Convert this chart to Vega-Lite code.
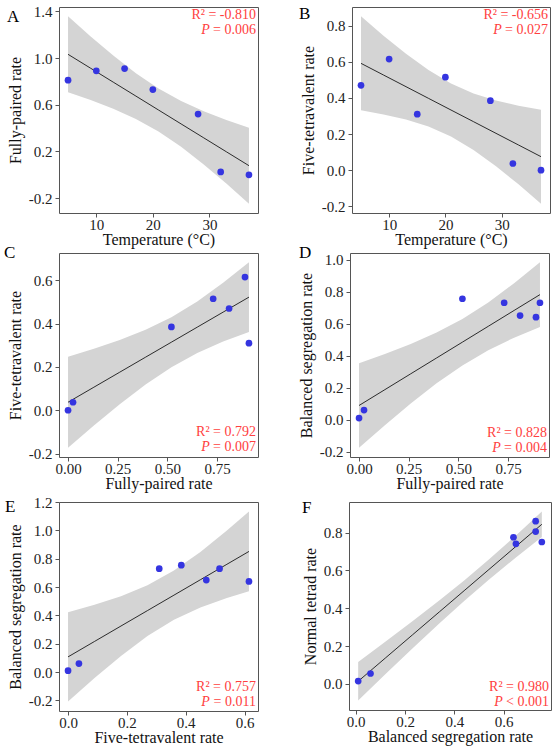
{
"$schema":"https://vega.github.io/schema/vega-lite/v6.json",
"padding":{"left":3,"top":3,"right":0,"bottom":0},
"datasets":{
"pts":[
{"temp":5,"fully":0.81,"five":0.47,"balanced":0.65,"normal":0.74},
{"temp":10,"fully":0.89,"five":0.615,"balanced":0.64,"normal":0.775},
{"temp":15,"fully":0.91,"five":0.31,"balanced":0.73,"normal":0.86},
{"temp":20,"fully":0.73,"five":0.515,"balanced":0.73,"normal":0.805},
{"temp":28,"fully":0.52,"five":0.385,"balanced":0.755,"normal":0.75},
{"temp":32,"fully":0.025,"five":0.037,"balanced":0.06,"normal":0.055},
{"temp":37,"fully":0.0,"five":0.0,"balanced":0.01,"normal":0.015}
],
"bandA":[
{"x":5,"lo":0.7067,"hi":1.3566,"fit":1.0317},
{"x":9,"lo":0.6402,"hi":1.1848,"fit":0.9125},
{"x":13,"lo":0.5660,"hi":1.0207,"fit":0.7933},
{"x":17,"lo":0.4787,"hi":0.8696,"fit":0.6742},
{"x":21,"lo":0.3714,"hi":0.7386,"fit":0.5550},
{"x":25,"lo":0.2404,"hi":0.6313,"fit":0.4358},
{"x":29,"lo":0.0893,"hi":0.5440,"fit":0.3167},
{"x":33,"lo":-0.0748,"hi":0.4698,"fit":0.1975},
{"x":37,"lo":-0.2466,"hi":0.4033,"fit":0.0783}
],
"bandB":[
{"x":5,"lo":0.3313,"hi":0.8515,"fit":0.5914},
{"x":9,"lo":0.3089,"hi":0.7447,"fit":0.5268},
{"x":13,"lo":0.2804,"hi":0.6442,"fit":0.4623},
{"x":17,"lo":0.2413,"hi":0.5541,"fit":0.3977},
{"x":21,"lo":0.1862,"hi":0.4801,"fit":0.3331},
{"x":25,"lo":0.1122,"hi":0.4250,"fit":0.2686},
{"x":29,"lo":0.0221,"hi":0.3860,"fit":0.2040},
{"x":33,"lo":-0.0784,"hi":0.3574,"fit":0.1395},
{"x":37,"lo":-0.1851,"hi":0.3350,"fit":0.0749}
],
"bandC":[
{"x":0,"lo":-0.1731,"hi":0.2472,"fit":0.0371},
{"x":0.13,"lo":-0.0707,"hi":0.2835,"fit":0.1064},
{"x":0.26,"lo":0.0275,"hi":0.3240,"fit":0.1758},
{"x":0.39,"lo":0.1187,"hi":0.3715,"fit":0.2451},
{"x":0.52,"lo":0.1988,"hi":0.4301,"fit":0.3145},
{"x":0.65,"lo":0.2649,"hi":0.5028,"fit":0.3838},
{"x":0.78,"lo":0.3178,"hi":0.5886,"fit":0.4532},
{"x":0.91,"lo":0.3616,"hi":0.6835,"fit":0.5225}
],
"bandD":[
{"x":0,"lo":-0.1755,"hi":0.3521,"fit":0.0883},
{"x":0.13,"lo":-0.0351,"hi":0.4096,"fit":0.1873},
{"x":0.26,"lo":0.1001,"hi":0.4723,"fit":0.2862},
{"x":0.39,"lo":0.2265,"hi":0.5438,"fit":0.3851},
{"x":0.52,"lo":0.3389,"hi":0.6292,"fit":0.4841},
{"x":0.65,"lo":0.4337,"hi":0.7324,"fit":0.5830},
{"x":0.78,"lo":0.5120,"hi":0.8519,"fit":0.6820},
{"x":0.91,"lo":0.5789,"hi":0.9829,"fit":0.7809}
],
"bandE":[
{"x":0,"lo":-0.2075,"hi":0.4224,"fit":0.1075},
{"x":0.09,"lo":-0.0420,"hi":0.4748,"fit":0.2164},
{"x":0.18,"lo":0.1145,"hi":0.5362,"fit":0.3254},
{"x":0.27,"lo":0.2547,"hi":0.6139,"fit":0.4343},
{"x":0.36,"lo":0.3694,"hi":0.7171,"fit":0.5432},
{"x":0.45,"lo":0.4564,"hi":0.8479,"fit":0.6522},
{"x":0.54,"lo":0.5233,"hi":0.9989,"fit":0.7611},
{"x":0.615,"lo":0.5700,"hi":1.1338,"fit":0.8519}
],
"bandF":[
{"x":0.01,"lo":-0.0880,"hi":0.1155,"fit":0.0138},
{"x":0.12,"lo":0.0503,"hi":0.2223,"fit":0.1363},
{"x":0.23,"lo":0.1869,"hi":0.3307,"fit":0.2588},
{"x":0.34,"lo":0.3207,"hi":0.4418,"fit":0.3813},
{"x":0.44,"lo":0.4385,"hi":0.5469,"fit":0.4927},
{"x":0.54,"lo":0.5510,"hi":0.6571,"fit":0.6041},
{"x":0.65,"lo":0.6685,"hi":0.7846,"fit":0.7266},
{"x":0.755,"lo":0.7758,"hi":0.9113,"fit":0.8435}
]
},
"spacing":-5,
"vconcat":[
{"spacing":39,
 "hconcat":[
{"width":199,"height":206,
 "layer":[
  {"data":{"name":"bandA"},"mark":{"type":"area","color":"#d4d4d4"},
   "encoding":{"x":{"field":"x","type":"quantitative","title":"Temperature (°C)","scale":{"domain":[3.4,38.6],"nice":false,"zero":false},"axis":{"values":[10,20,30],"tickCount":20}},
     "y":{"field":"lo","type":"quantitative","title":"Fully-paired rate","scale":{"domain":[-0.3268,1.4368],"nice":false,"zero":false},"axis":{"values":[-0.2,0.2,0.6,1.0,1.4],"format":".1f","tickCount":20}},
     "y2":{"field":"hi"}}},
  {"data":{"name":"bandA"},"mark":{"type":"line","color":"#000","strokeWidth":0.8},
   "encoding":{"x":{"field":"x","type":"quantitative","title":"Temperature (°C)"},"y":{"field":"fit","type":"quantitative","title":"Fully-paired rate"}}},
  {"data":{"name":"pts"},"mark":{"type":"circle","color":"#3535e0","size":45,"opacity":1},
   "encoding":{"x":{"field":"temp","type":"quantitative","title":"Temperature (°C)"},"y":{"field":"fully","type":"quantitative","title":"Fully-paired rate"}}},
  {"data":{"values":[{"r2":"R² = -0.810","p":"= 0.006","pl":"P","lab":"A"}]},
   "layer":[
    {"mark":{"type":"text","align":"right","baseline":"alphabetic","dx":-2,"dy":12,"color":"#ff4040","fontSize":14},"encoding":{"x":{"datum":38.6,"type":"quantitative"},"y":{"datum":1.4368,"type":"quantitative"},"text":{"field":"r2"}}},
    {"mark":{"type":"text","align":"right","baseline":"alphabetic","dx":-2,"dy":27,"color":"#ff4040","fontSize":14},"encoding":{"x":{"datum":38.6,"type":"quantitative"},"y":{"datum":1.4368,"type":"quantitative"},"text":{"field":"p"}}},
    {"mark":{"type":"text","align":"right","baseline":"alphabetic","dx":-48.3,"dy":27,"color":"#ff4040","fontSize":14,"fontStyle":"italic"},"encoding":{"x":{"datum":38.6,"type":"quantitative"},"y":{"datum":1.4368,"type":"quantitative"},"text":{"field":"pl"}}},
    {"mark":{"type":"text","align":"left","baseline":"alphabetic","dx":-52,"dy":15,"color":"#000","fontSize":17},"encoding":{"x":{"datum":3.4,"type":"quantitative"},"y":{"datum":1.4368,"type":"quantitative"},"text":{"field":"lab"}}}
   ]}
 ]},
{"width":198,"height":206,
 "layer":[
  {"data":{"name":"bandB"},"mark":{"type":"area","color":"#d4d4d4"},
   "encoding":{"x":{"field":"x","type":"quantitative","title":"Temperature (°C)","scale":{"domain":[3.4,38.6],"nice":false,"zero":false},"axis":{"values":[10,20,30],"tickCount":20}},
     "y":{"field":"lo","type":"quantitative","title":"Five-tetravalent rate","scale":{"domain":[-0.2369,0.9033],"nice":false,"zero":false},"axis":{"values":[-0.2,0,0.2,0.4,0.6,0.8],"format":".1f","tickCount":20}},
     "y2":{"field":"hi"}}},
  {"data":{"name":"bandB"},"mark":{"type":"line","color":"#000","strokeWidth":0.8},
   "encoding":{"x":{"field":"x","type":"quantitative","title":"Temperature (°C)"},"y":{"field":"fit","type":"quantitative","title":"Five-tetravalent rate"}}},
  {"data":{"name":"pts"},"mark":{"type":"circle","color":"#3535e0","size":45,"opacity":1},
   "encoding":{"x":{"field":"temp","type":"quantitative","title":"Temperature (°C)"},"y":{"field":"five","type":"quantitative","title":"Five-tetravalent rate"}}},
  {"data":{"values":[{"r2":"R² = -0.656","p":"= 0.027","pl":"P","lab":"B"}]},
   "layer":[
    {"mark":{"type":"text","align":"right","baseline":"alphabetic","dx":-2,"dy":12,"color":"#ff4040","fontSize":14},"encoding":{"x":{"datum":38.6,"type":"quantitative"},"y":{"datum":0.9033,"type":"quantitative"},"text":{"field":"r2"}}},
    {"mark":{"type":"text","align":"right","baseline":"alphabetic","dx":-2,"dy":27,"color":"#ff4040","fontSize":14},"encoding":{"x":{"datum":38.6,"type":"quantitative"},"y":{"datum":0.9033,"type":"quantitative"},"text":{"field":"p"}}},
    {"mark":{"type":"text","align":"right","baseline":"alphabetic","dx":-48.3,"dy":27,"color":"#ff4040","fontSize":14,"fontStyle":"italic"},"encoding":{"x":{"datum":38.6,"type":"quantitative"},"y":{"datum":0.9033,"type":"quantitative"},"text":{"field":"pl"}}},
    {"mark":{"type":"text","align":"left","baseline":"alphabetic","dx":-53,"dy":12,"color":"#000","fontSize":17},"encoding":{"x":{"datum":3.4,"type":"quantitative"},"y":{"datum":0.9033,"type":"quantitative"},"text":{"field":"lab"}}}
   ]}
 ]}
]},
{"spacing":2,
 "vconcat":[
{"spacing":38,
 "hconcat":[
{"width":199,"height":204,
 "layer":[
  {"data":{"name":"bandC"},"mark":{"type":"area","color":"#d4d4d4"},
   "encoding":{"x":{"field":"x","type":"quantitative","title":"Fully-paired rate","scale":{"domain":[-0.0455,0.9555],"nice":false,"zero":false},"axis":{"values":[0,0.25,0.5,0.75],"format":".2f","tickCount":20}},
     "y":{"field":"lo","type":"quantitative","title":"Five-tetravalent rate","scale":{"domain":[-0.2159,0.7263],"nice":false,"zero":false},"axis":{"values":[-0.2,0,0.2,0.4,0.6],"format":".1f","tickCount":20}},
     "y2":{"field":"hi"}}},
  {"data":{"name":"bandC"},"mark":{"type":"line","color":"#000","strokeWidth":0.8},
   "encoding":{"x":{"field":"x","type":"quantitative","title":"Fully-paired rate"},"y":{"field":"fit","type":"quantitative","title":"Five-tetravalent rate"}}},
  {"data":{"name":"pts"},"mark":{"type":"circle","color":"#3535e0","size":45,"opacity":1},
   "encoding":{"x":{"field":"fully","type":"quantitative","title":"Fully-paired rate"},"y":{"field":"five","type":"quantitative","title":"Five-tetravalent rate"}}},
  {"data":{"values":[{"r2":"R² = 0.792","p":"= 0.007","pl":"P","lab":"C"}]},
   "layer":[
    {"mark":{"type":"text","align":"right","baseline":"alphabetic","dx":-2,"dy":-21,"color":"#ff4040","fontSize":14},"encoding":{"x":{"datum":0.9555,"type":"quantitative"},"y":{"datum":-0.2159,"type":"quantitative"},"text":{"field":"r2"}}},
    {"mark":{"type":"text","align":"right","baseline":"alphabetic","dx":-2,"dy":-6,"color":"#ff4040","fontSize":14},"encoding":{"x":{"datum":0.9555,"type":"quantitative"},"y":{"datum":-0.2159,"type":"quantitative"},"text":{"field":"p"}}},
    {"mark":{"type":"text","align":"right","baseline":"alphabetic","dx":-48.3,"dy":-6,"color":"#ff4040","fontSize":14,"fontStyle":"italic"},"encoding":{"x":{"datum":0.9555,"type":"quantitative"},"y":{"datum":-0.2159,"type":"quantitative"},"text":{"field":"pl"}}},
    {"mark":{"type":"text","align":"left","baseline":"alphabetic","dx":-55,"dy":5,"color":"#000","fontSize":17},"encoding":{"x":{"datum":-0.0455,"type":"quantitative"},"y":{"datum":0.7263,"type":"quantitative"},"text":{"field":"lab"}}}
   ]}
 ]},
{"width":199,"height":204,
 "layer":[
  {"data":{"name":"bandD"},"mark":{"type":"area","color":"#d4d4d4"},
   "encoding":{"x":{"field":"x","type":"quantitative","title":"Fully-paired rate","scale":{"domain":[-0.0455,0.9555],"nice":false,"zero":false},"axis":{"values":[0,0.25,0.5,0.75],"format":".2f","tickCount":20}},
     "y":{"field":"lo","type":"quantitative","title":"Balanced segregation rate","scale":{"domain":[-0.2334,1.0408],"nice":false,"zero":false},"axis":{"values":[-0.2,0,0.2,0.4,0.6,0.8,1.0],"format":".1f","tickCount":20}},
     "y2":{"field":"hi"}}},
  {"data":{"name":"bandD"},"mark":{"type":"line","color":"#000","strokeWidth":0.8},
   "encoding":{"x":{"field":"x","type":"quantitative","title":"Fully-paired rate"},"y":{"field":"fit","type":"quantitative","title":"Balanced segregation rate"}}},
  {"data":{"name":"pts"},"mark":{"type":"circle","color":"#3535e0","size":45,"opacity":1},
   "encoding":{"x":{"field":"fully","type":"quantitative","title":"Fully-paired rate"},"y":{"field":"balanced","type":"quantitative","title":"Balanced segregation rate"}}},
  {"data":{"values":[{"r2":"R² = 0.828","p":"= 0.004","pl":"P","lab":"D"}]},
   "layer":[
    {"mark":{"type":"text","align":"right","baseline":"alphabetic","dx":-2,"dy":-20,"color":"#ff4040","fontSize":14},"encoding":{"x":{"datum":0.9555,"type":"quantitative"},"y":{"datum":-0.2334,"type":"quantitative"},"text":{"field":"r2"}}},
    {"mark":{"type":"text","align":"right","baseline":"alphabetic","dx":-2,"dy":-5,"color":"#ff4040","fontSize":14},"encoding":{"x":{"datum":0.9555,"type":"quantitative"},"y":{"datum":-0.2334,"type":"quantitative"},"text":{"field":"p"}}},
    {"mark":{"type":"text","align":"right","baseline":"alphabetic","dx":-48.3,"dy":-5,"color":"#ff4040","fontSize":14,"fontStyle":"italic"},"encoding":{"x":{"datum":0.9555,"type":"quantitative"},"y":{"datum":-0.2334,"type":"quantitative"},"text":{"field":"pl"}}},
    {"mark":{"type":"text","align":"left","baseline":"alphabetic","dx":-51,"dy":5,"color":"#000","fontSize":17},"encoding":{"x":{"datum":-0.0455,"type":"quantitative"},"y":{"datum":1.0408,"type":"quantitative"},"text":{"field":"lab"}}}
   ]}
 ]}
]},
{"spacing":42,
 "hconcat":[
{"width":199,"height":209,
 "layer":[
  {"data":{"name":"bandE"},"mark":{"type":"area","color":"#d4d4d4"},
   "encoding":{"x":{"field":"x","type":"quantitative","title":"Five-tetravalent rate","scale":{"domain":[-0.03075,0.64575],"nice":false,"zero":false},"axis":{"values":[0,0.2,0.4,0.6],"format":".1f","tickCount":20}},
     "y":{"field":"lo","type":"quantitative","title":"Balanced segregation rate","scale":{"domain":[-0.2746,1.2009],"nice":false,"zero":false},"axis":{"values":[-0.2,0,0.2,0.4,0.6,0.8,1.0,1.2],"format":".1f","tickCount":20}},
     "y2":{"field":"hi"}}},
  {"data":{"name":"bandE"},"mark":{"type":"line","color":"#000","strokeWidth":0.8},
   "encoding":{"x":{"field":"x","type":"quantitative","title":"Five-tetravalent rate"},"y":{"field":"fit","type":"quantitative","title":"Balanced segregation rate"}}},
  {"data":{"name":"pts"},"mark":{"type":"circle","color":"#3535e0","size":45,"opacity":1},
   "encoding":{"x":{"field":"five","type":"quantitative","title":"Five-tetravalent rate"},"y":{"field":"balanced","type":"quantitative","title":"Balanced segregation rate"}}},
  {"data":{"values":[{"r2":"R² = 0.757","p":"= 0.011","pl":"P","lab":"E"}]},
   "layer":[
    {"mark":{"type":"text","align":"right","baseline":"alphabetic","dx":-2,"dy":-20,"color":"#ff4040","fontSize":14},"encoding":{"x":{"datum":0.64575,"type":"quantitative"},"y":{"datum":-0.2746,"type":"quantitative"},"text":{"field":"r2"}}},
    {"mark":{"type":"text","align":"right","baseline":"alphabetic","dx":-2,"dy":-5,"color":"#ff4040","fontSize":14},"encoding":{"x":{"datum":0.64575,"type":"quantitative"},"y":{"datum":-0.2746,"type":"quantitative"},"text":{"field":"p"}}},
    {"mark":{"type":"text","align":"right","baseline":"alphabetic","dx":-48.3,"dy":-5,"color":"#ff4040","fontSize":14,"fontStyle":"italic"},"encoding":{"x":{"datum":0.64575,"type":"quantitative"},"y":{"datum":-0.2746,"type":"quantitative"},"text":{"field":"pl"}}},
    {"mark":{"type":"text","align":"left","baseline":"alphabetic","dx":-54,"dy":10,"color":"#000","fontSize":17},"encoding":{"x":{"datum":-0.03075,"type":"quantitative"},"y":{"datum":1.2009,"type":"quantitative"},"text":{"field":"lab"}}}
   ]}
 ]},
{"width":202,"height":208,
 "layer":[
  {"data":{"name":"bandF"},"mark":{"type":"area","color":"#d4d4d4"},
   "encoding":{"x":{"field":"x","type":"quantitative","title":"Balanced segregation rate","scale":{"domain":[-0.02725,0.79225],"nice":false,"zero":false},"axis":{"values":[0,0.2,0.4,0.6],"format":".1f","tickCount":20}},
     "y":{"field":"lo","type":"quantitative","title":"Normal tetrad rate","scale":{"domain":[-0.138,0.9613],"nice":false,"zero":false},"axis":{"values":[0,0.2,0.4,0.6,0.8],"format":".1f","tickCount":20}},
     "y2":{"field":"hi"}}},
  {"data":{"name":"bandF"},"mark":{"type":"line","color":"#000","strokeWidth":0.8},
   "encoding":{"x":{"field":"x","type":"quantitative","title":"Balanced segregation rate"},"y":{"field":"fit","type":"quantitative","title":"Normal tetrad rate"}}},
  {"data":{"name":"pts"},"mark":{"type":"circle","color":"#3535e0","size":45,"opacity":1},
   "encoding":{"x":{"field":"balanced","type":"quantitative","title":"Balanced segregation rate"},"y":{"field":"normal","type":"quantitative","title":"Normal tetrad rate"}}},
  {"data":{"values":[{"r2":"R² = 0.980","p":"< 0.001","pl":"P","lab":"F"}]},
   "layer":[
    {"mark":{"type":"text","align":"right","baseline":"alphabetic","dx":-2,"dy":-19,"color":"#ff4040","fontSize":14},"encoding":{"x":{"datum":0.79225,"type":"quantitative"},"y":{"datum":-0.138,"type":"quantitative"},"text":{"field":"r2"}}},
    {"mark":{"type":"text","align":"right","baseline":"alphabetic","dx":-2,"dy":-4,"color":"#ff4040","fontSize":14},"encoding":{"x":{"datum":0.79225,"type":"quantitative"},"y":{"datum":-0.138,"type":"quantitative"},"text":{"field":"p"}}},
    {"mark":{"type":"text","align":"right","baseline":"alphabetic","dx":-48.3,"dy":-4,"color":"#ff4040","fontSize":14,"fontStyle":"italic"},"encoding":{"x":{"datum":0.79225,"type":"quantitative"},"y":{"datum":-0.138,"type":"quantitative"},"text":{"field":"pl"}}},
    {"mark":{"type":"text","align":"left","baseline":"alphabetic","dx":-47,"dy":11,"color":"#000","fontSize":17},"encoding":{"x":{"datum":-0.02725,"type":"quantitative"},"y":{"datum":0.9613,"type":"quantitative"},"text":{"field":"lab"}}}
   ]}
 ]}
]}
]}
],
"config":{
 "font":"Liberation Serif",
 "view":{"stroke":"#555555","strokeWidth":1},
 "axis":{"domain":false,"grid":false,"tickColor":"#555555","tickSize":4,"labelOverlap":false,"labelFont":"Liberation Serif","labelFontSize":15,"labelColor":"#222222","titleFont":"Liberation Serif","titleFontSize":16,"titleFontWeight":"normal","titleColor":"#111111","labelPadding":3,"titlePadding":5,"labelExpr":"replace(datum.label, '\u2212', '-')"},
 "axisX":{"labelPadding":0,"titlePadding":-1}
}
}
